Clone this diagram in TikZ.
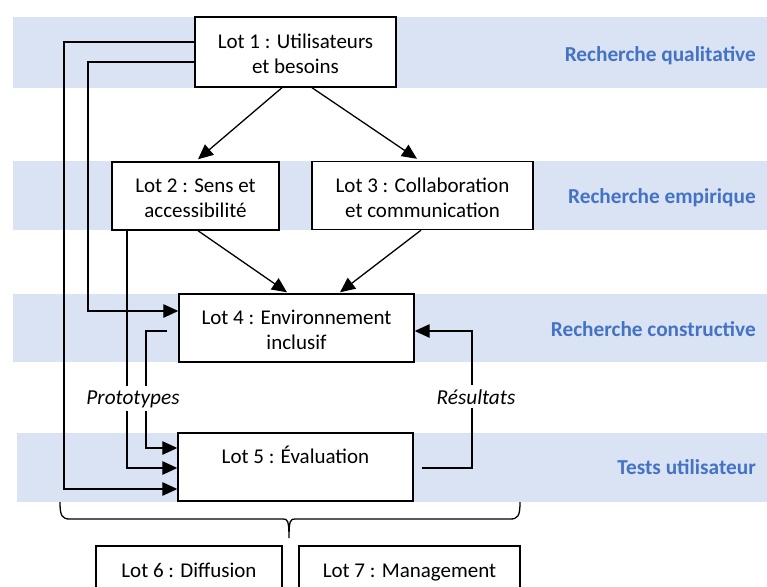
\documentclass[tikz,border=0pt]{standalone}
\usepackage{fontspec}
\setmainfont{Carlito}
\usetikzlibrary{arrows.meta,calc}
\definecolor{bandblue}{HTML}{DAE3F3}
\definecolor{labblue}{HTML}{4472C4}
\newcommand\topS{\rule{0pt}{24pt}}
\newcommand\botS{\rule[-6pt]{0pt}{6pt}}
\tikzset{
  band/.style={fill=bandblue,draw=none},
  lotbox/.style={draw=black,line width=1.4pt,fill=white,align=center,inner sep=0pt,
    font=\fontsize{21}{25}\selectfont},
  bandlab/.style={anchor=base east,text=labblue,inner sep=0pt,font=\fontsize{21.3}{25}\selectfont\bfseries},
  arr/.style={line width=1.3pt,-{Triangle[length=15pt,width=13.5pt]}},
  ln/.style={line width=1.3pt},
  flowlab/.style={anchor=base,fill=white,inner xsep=1pt,inner ysep=4pt,font=\fontsize{21.3}{25}\selectfont\itshape}
}
\begin{document}
\begin{tikzpicture}[x=1pt,y=-1pt]
\useasboundingbox (0,0) rectangle (767,586);
\clip (0,0) rectangle (767,586);
% bands
\fill[band] (13,17) rectangle (767,88);
\fill[band] (13,161) rectangle (767,230);
\fill[band] (13,294) rectangle (767,362);
\fill[band] (17,433) rectangle (767,502);
% band labels
\node[bandlab] (q) at (756,61) {Recherche qualitative};
\node[bandlab] (e) at (756,203) {Recherche empirique};
\node[bandlab] (c) at (756,336) {Recherche constructive};
\node[bandlab] (t) at (756,474) {Tests utilisateur};
% boxes
\node[lotbox,minimum width=201pt,minimum height=70pt] (b1) at (295.5,52) {\topS Lot 1 : Utilisateurs\\et besoins\botS};
\node[lotbox,minimum width=167pt,minimum height=68pt] (b2) at (195.5,196) {\topS Lot 2 : Sens et\\accessibilité\botS};
\node[lotbox,minimum width=221pt,minimum height=68pt] (b3) at (422.5,195.5) {\topS Lot 3 : Collaboration\\et communication\botS};
\node[lotbox,minimum width=235pt,minimum height=68pt] (b4) at (296.5,328) {\topS Lot 4 : Environnement\\inclusif\botS};
\node[lotbox,minimum width=235pt,minimum height=68pt] (b5) at (295.5,467) {\topS Lot 5 : Évaluation\\\mbox{}\botS};
\node[lotbox,minimum width=186pt,minimum height=44pt] (b6) at (189,568) {\topS Lot 6 : Diffusion\botS};
\node[lotbox,minimum width=221pt,minimum height=44pt] (b7) at (409.5,568) {\topS Lot 7 : Management\botS};
% arrows
\draw[arr] ([xshift=-13.5pt]b1.south) -- ([xshift=2.5pt,yshift=2pt]b2.north);
\draw[arr] ([xshift=16.5pt]b1.south) -- ([xshift=-5.5pt,yshift=2pt]b3.north);
\draw[arr] ([xshift=2.5pt]b2.south) -- ([xshift=-9.5pt,yshift=1pt]b4.north);
\draw[arr] ([xshift=-1.5pt]b3.south) -- ([xshift=43.5pt,yshift=1pt]b4.north);
\draw[arr] ([yshift=10pt]b1.west) -| (64,489) -- ([yshift=-22pt]b5.west);
\draw[arr] ([yshift=-10pt]b1.west) -| (88,311) -- ([yshift=17pt]b4.west);
\draw[arr] ([xshift=15.7pt]b2.south west) |- ([yshift=-1pt]b5.west);
\draw[arr] ([xshift=-11pt,yshift=-3pt]b4.west) -| (146,448) -- ([yshift=19pt]b5.west);
\draw[arr] ([xshift=8pt,yshift=-1pt]b5.east) -| (472,331) -- ([yshift=-3pt]b4.east);
% flow labels
\node[flowlab] (proto) at (133,404) {Prototypes};
\node[flowlab] (res) at (476,404) {Résultats};
% brace
\coordinate (brL) at (60,502);
\coordinate (brR) at (520,502);
\coordinate (brT) at (289,538);
\draw[ln] (brL) .. controls (60,516) and (62,519) .. (70,519) -- (283,519)
  .. controls (287.5,519) and (289,520) .. (brT)
  .. controls (289,520) and (290.5,519) .. (295,519) -- (510,519)
  .. controls (518,519) and (520,516) .. (brR);
\end{tikzpicture}
\end{document}
